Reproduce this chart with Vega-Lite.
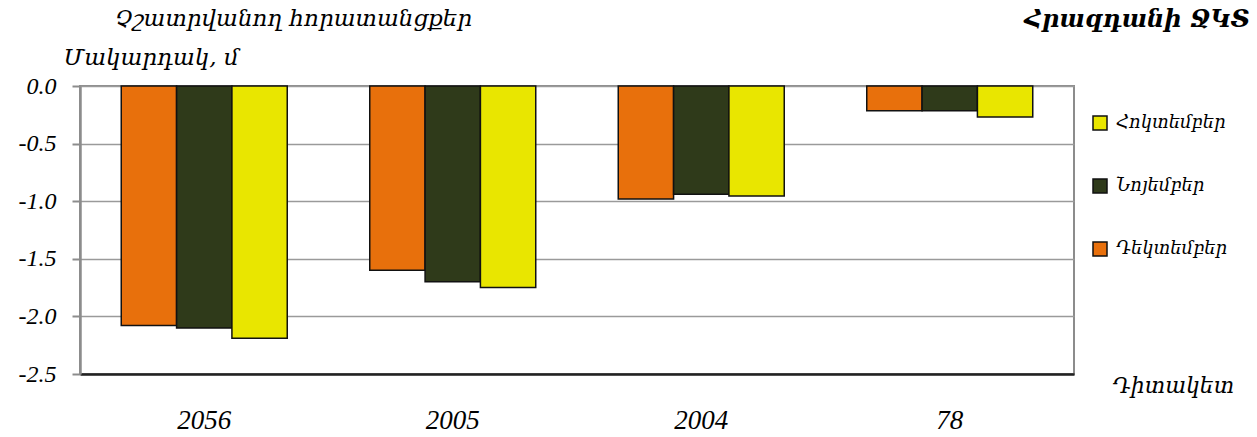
{
  "$schema": "https://vega.github.io/schema/vega-lite/v6.json",
  "width": 994,
  "height": 288,
  "autosize": "none",
  "padding": {"left": 80, "top": 86, "right": 183, "bottom": 63},
  "background": "white",
  "config": {
    "font": "Liberation Serif, DejaVu Serif",
    "view": {"stroke": "#8c8c8c", "strokeWidth": 2}
  },
  "title": {
    "text": "Հրազդանի ՋԿՏ",
    "anchor": "end",
    "frame": "group",
    "dx": 176,
    "offset": -25,
    "fontSize": 24,
    "fontWeight": "bold",
    "fontStyle": "italic",
    "color": "black",
    "font": "DejaVu Serif"
  },
  "data": {
    "values": [
      {"site": "2056", "month": "Դեկտեմբեր", "value": -2.08},
      {"site": "2056", "month": "Նոյեմբեր", "value": -2.10},
      {"site": "2056", "month": "Հոկտեմբեր", "value": -2.19},
      {"site": "2005", "month": "Դեկտեմբեր", "value": -1.60},
      {"site": "2005", "month": "Նոյեմբեր", "value": -1.70},
      {"site": "2005", "month": "Հոկտեմբեր", "value": -1.75},
      {"site": "2004", "month": "Դեկտեմբեր", "value": -0.98},
      {"site": "2004", "month": "Նոյեմբեր", "value": -0.94},
      {"site": "2004", "month": "Հոկտեմբեր", "value": -0.955},
      {"site": "78", "month": "Դեկտեմբեր", "value": -0.215},
      {"site": "78", "month": "Նոյեմբեր", "value": -0.215},
      {"site": "78", "month": "Հոկտեմբեր", "value": -0.27}
    ]
  },
  "mark": {"type": "bar", "stroke": "#111111", "strokeWidth": 1.5},
  "encoding": {
    "x": {
      "field": "site",
      "type": "nominal",
      "sort": ["2056", "2005", "2004", "78"],
      "scale": {"paddingInner": 0.332, "paddingOuter": 0.166},
      "axis": {
        "title": "Դիտակետ",
        "titleX": 1032,
        "titleY": 11,
        "titleAlign": "left",
        "titleAnchor": null,
        "titleBaseline": "middle",
        "titleFontSize": 22,
        "titleFontStyle": "italic",
        "titleFontWeight": "normal",
        "titleColor": "black",
        "titleFont": "DejaVu Serif",
        "labelAngle": 0,
        "labelFontSize": 27,
        "labelFontStyle": "italic",
        "labelColor": "black",
        "labelPadding": 33,
        "ticks": false,
        "domainColor": "#222222",
        "domainWidth": 2.5
      }
    },
    "xOffset": {
      "field": "month",
      "type": "nominal",
      "sort": ["Դեկտեմբեր", "Նոյեմբեր", "Հոկտեմբեր"],
      "scale": {"paddingInner": 0, "paddingOuter": 0}
    },
    "y": {
      "field": "value",
      "type": "quantitative",
      "scale": {"domain": [-2.5, 0], "nice": false, "zero": false},
      "axis": {
        "values": [-2.5, -2, -1.5, -1, -0.5, 0],
        "labelExpr": "replace(format(datum.value, '.1f'), '−', '-')",
        "labelFontSize": 24,
        "labelFontStyle": "italic",
        "labelColor": "black",
        "labelPadding": 16,
        "tickSize": 8,
        "tickColor": "#8c8c8c",
        "tickWidth": 2,
        "domainColor": "#8c8c8c",
        "domainWidth": 2.5,
        "gridColor": "#9a9a9a",
        "gridWidth": 1.5,
        "title": ["\u200b\u00a0\u00a0\u00a0\u00a0\u00a0\u00a0\u00a0Չշատրվանող հորատանցքեր", "Մակարդակ, մ"],
        "titleAngle": 0,
        "titleAlign": "left",
        "titleAnchor": null,
        "titleBaseline": "alphabetic",
        "titleX": -17,
        "titleY": -61,
        "titleLineHeight": 39,
        "titleFontSize": 23,
        "titleFontStyle": "italic",
        "titleFontWeight": "normal",
        "titleColor": "black",
        "titleFont": "DejaVu Serif"
      }
    },
    "color": {
      "field": "month",
      "type": "nominal",
      "sort": ["Հոկտեմբեր", "Նոյեմբեր", "Դեկտեմբեր"],
      "scale": {
        "domain": ["Հոկտեմբեր", "Նոյեմբեր", "Դեկտեմբեր"],
        "range": ["#e9e600", "#2f3a1a", "#e8700c"]
      },
      "legend": {
        "title": null,
        "orient": "none",
        "legendX": 1011,
        "legendY": 28,
        "symbolType": "square",
        "symbolSize": 196,
        "symbolStrokeColor": "#111111",
        "symbolStrokeWidth": 1.5,
        "labelFont": "DejaVu Serif",
        "labelFontSize": 18,
        "labelFontStyle": "italic",
        "labelColor": "black",
        "labelOffset": 7,
        "rowPadding": 43
      }
    }
  }
}
